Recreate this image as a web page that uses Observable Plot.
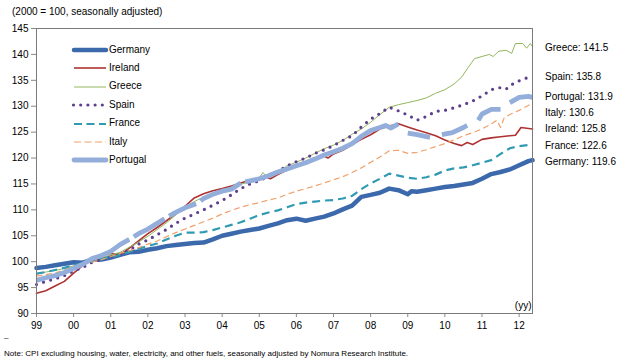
<!DOCTYPE html>
<html>
<head>
<meta charset="utf-8">
<script src="https://cdn.jsdelivr.net/npm/d3@7"></script>
<script src="https://cdn.jsdelivr.net/npm/@observablehq/plot@0.6"></script>
<style>
  html, body { margin: 0; padding: 0; background: #fff; }
  #wrap { position: relative; width: 620px; height: 360px; font-family: "Liberation Sans", Arial, sans-serif; color: #000; overflow: hidden; }
  #wrap svg.chart { position: absolute; left: 0; top: 0; }
  .abs { position: absolute; white-space: nowrap; }
</style>
</head>
<body>
<div id="wrap"></div>
<script>
// ---- data (decimal years, index 2000 = 100) ----
const names = ["Germany", "Ireland", "Greece", "Spain", "France", "Italy", "Portugal"];
const finalValues = [119.6, 125.8, 141.5, 135.8, 122.6, 130.6, 131.9];
const yearTicks = [1999, 2000, 2001, 2002, 2003, 2004, 2005, 2006, 2007, 2008, 2009, 2010, 2011, 2012];
const yTicks = [90, 95, 100, 105, 110, 115, 120, 125, 130, 135, 140, 145];

const germany = [[1999.0,98.8],[1999.25,99.0],[1999.5,99.3],[1999.75,99.6],[2000.0,99.9],[2000.25,99.8],[2000.5,100.4],[2000.75,100.4],[2001.0,100.8],[2001.25,101.3],[2001.5,101.8],[2001.75,101.9],[2002.0,102.3],[2002.25,102.6],[2002.5,103.0],[2002.75,103.2],[2003.0,103.4],[2003.25,103.6],[2003.5,103.7],[2003.75,104.3],[2004.0,105.0],[2004.25,105.4],[2004.5,105.8],[2004.75,106.1],[2005.0,106.4],[2005.25,106.9],[2005.5,107.4],[2005.75,108.0],[2006.0,108.3],[2006.25,107.9],[2006.5,108.3],[2006.75,108.7],[2007.0,109.3],[2007.25,110.1],[2007.5,110.8],[2007.75,112.5],[2008.0,112.9],[2008.25,113.3],[2008.5,114.1],[2008.75,113.8],[2009.0,113.0],[2009.1,113.6],[2009.25,113.5],[2009.5,113.8],[2009.75,114.1],[2010.0,114.4],[2010.25,114.6],[2010.5,114.9],[2010.75,115.2],[2011.0,116.0],[2011.25,116.9],[2011.5,117.3],[2011.75,117.8],[2012.0,118.6],[2012.25,119.4],[2012.36,119.6]];

const ireland = [[1999.0,93.9],[1999.25,94.4],[1999.5,95.3],[1999.75,96.2],[2000.0,97.8],[2000.25,99.3],[2000.5,100.5],[2000.75,101.2],[2001.0,101.6],[2001.25,101.3],[2001.5,102.6],[2001.75,104.0],[2002.0,105.4],[2002.25,106.6],[2002.5,107.9],[2002.75,109.2],[2003.0,110.7],[2003.25,112.3],[2003.5,113.1],[2003.75,113.7],[2004.0,114.1],[2004.25,114.6],[2004.5,115.2],[2004.75,115.7],[2005.0,116.1],[2005.2,116.3],[2005.3,116.0],[2005.5,116.8],[2005.75,117.7],[2006.0,118.4],[2006.25,119.0],[2006.5,119.8],[2006.75,120.4],[2006.85,120.0],[2007.0,120.8],[2007.25,121.5],[2007.5,122.6],[2007.75,123.6],[2008.0,124.5],[2008.25,125.6],[2008.5,126.2],[2008.75,126.6],[2009.0,126.0],[2009.25,125.4],[2009.5,124.9],[2009.75,124.3],[2010.0,123.5],[2010.25,122.8],[2010.45,122.4],[2010.6,123.0],[2010.75,122.6],[2011.0,123.6],[2011.25,123.9],[2011.5,124.1],[2011.75,124.3],[2011.9,124.4],[2012.05,125.9],[2012.36,125.6]];

const greece = [[1999.0,97.6],[1999.25,98.0],[1999.5,98.3],[1999.75,98.7],[2000.0,99.2],[2000.25,99.6],[2000.5,100.1],[2000.75,100.7],[2001.0,101.3],[2001.25,101.8],[2001.5,102.8],[2001.75,103.8],[2002.0,104.9],[2002.25,106.2],[2002.5,107.5],[2002.75,109.0],[2003.0,110.6],[2003.25,111.6],[2003.5,112.5],[2003.75,113.2],[2004.0,113.8],[2004.25,114.4],[2004.5,114.9],[2004.75,115.5],[2005.0,116.2],[2005.1,117.2],[2005.2,116.3],[2005.5,117.3],[2005.75,118.5],[2006.0,119.2],[2006.25,120.0],[2006.5,120.9],[2006.75,121.8],[2007.0,122.5],[2007.25,123.4],[2007.5,124.6],[2007.75,125.6],[2008.0,126.9],[2008.25,128.4],[2008.5,129.8],[2008.75,130.3],[2009.0,130.7],[2009.25,131.1],[2009.5,131.6],[2009.75,132.5],[2010.0,133.2],[2010.25,134.3],[2010.45,135.6],[2010.6,137.2],[2010.8,139.2],[2011.0,139.6],[2011.2,140.0],[2011.3,139.6],[2011.45,140.6],[2011.65,140.8],[2011.8,140.2],[2011.9,142.1],[2012.1,142.1],[2012.2,141.2],[2012.3,142.1],[2012.36,141.5]];

const spain = [[1999.0,95.6],[1999.25,96.2],[1999.5,96.7],[1999.75,97.3],[2000.0,98.2],[2000.25,98.9],[2000.5,99.9],[2000.75,100.4],[2001.0,100.9],[2001.25,101.3],[2001.5,102.2],[2001.75,103.4],[2002.0,104.2],[2002.25,105.2],[2002.5,106.2],[2002.75,107.4],[2003.0,108.4],[2003.25,109.2],[2003.5,110.0],[2003.75,110.9],[2004.0,111.8],[2004.25,112.9],[2004.5,114.1],[2004.75,115.0],[2005.0,115.6],[2005.25,116.5],[2005.5,117.4],[2005.75,118.5],[2006.0,119.3],[2006.25,120.0],[2006.5,120.9],[2006.75,121.6],[2007.0,122.4],[2007.25,123.4],[2007.5,124.3],[2007.75,126.0],[2008.0,127.5],[2008.25,128.6],[2008.5,129.8],[2008.75,129.1],[2009.0,128.3],[2009.25,127.3],[2009.4,127.7],[2009.6,128.4],[2009.75,129.0],[2010.0,129.2],[2010.25,129.7],[2010.5,130.3],[2010.75,131.0],[2011.0,132.0],[2011.25,133.2],[2011.5,133.6],[2011.65,133.3],[2011.75,134.0],[2012.0,134.9],[2012.36,135.9]];

const france = [[1999.0,97.7],[1999.25,98.0],[1999.5,98.4],[1999.75,98.8],[2000.0,99.3],[2000.25,99.7],[2000.5,100.1],[2000.75,100.5],[2001.0,100.9],[2001.25,101.3],[2001.5,101.9],[2001.75,102.5],[2002.0,103.0],[2002.25,103.5],[2002.5,104.3],[2002.75,105.0],[2003.0,105.6],[2003.25,105.6],[2003.5,105.7],[2003.75,106.1],[2004.0,106.6],[2004.25,107.1],[2004.5,107.6],[2004.75,108.3],[2005.0,109.0],[2005.25,109.5],[2005.5,109.9],[2005.75,110.5],[2006.0,111.1],[2006.25,111.4],[2006.5,111.6],[2006.75,111.8],[2007.0,111.9],[2007.25,112.2],[2007.5,112.7],[2007.75,114.0],[2008.0,115.1],[2008.25,116.0],[2008.5,117.0],[2008.75,116.6],[2009.0,116.2],[2009.25,116.0],[2009.5,116.3],[2009.75,116.8],[2010.0,117.6],[2010.25,118.0],[2010.5,118.2],[2010.75,118.6],[2011.0,119.1],[2011.25,119.6],[2011.5,120.8],[2011.75,121.9],[2012.0,122.3],[2012.36,122.6]];

const italy = [[1999.0,97.2],[1999.25,97.5],[1999.5,97.8],[1999.75,98.4],[2000.0,99.1],[2000.25,99.6],[2000.5,99.9],[2000.75,100.4],[2001.0,101.0],[2001.25,101.6],[2001.5,102.1],[2001.75,102.7],[2002.0,103.4],[2002.25,104.0],[2002.5,104.8],[2002.75,105.6],[2003.0,106.3],[2003.25,107.0],[2003.5,107.7],[2003.75,108.4],[2004.0,109.2],[2004.25,109.9],[2004.5,110.5],[2004.75,111.0],[2005.0,111.4],[2005.25,111.9],[2005.5,112.3],[2005.75,113.0],[2006.0,113.6],[2006.25,114.1],[2006.5,114.6],[2006.75,115.2],[2007.0,115.8],[2007.25,116.4],[2007.5,117.2],[2007.75,118.1],[2008.0,119.2],[2008.25,120.2],[2008.5,121.4],[2008.75,121.5],[2009.0,120.9],[2009.25,121.1],[2009.5,121.6],[2009.75,122.2],[2010.0,122.8],[2010.25,123.5],[2010.5,124.3],[2010.75,124.9],[2011.0,125.6],[2011.25,126.6],[2011.4,127.3],[2011.5,125.9],[2011.6,127.8],[2011.75,128.4],[2012.0,129.2],[2012.36,130.6]];

// Portugal has missing months (null) which break the line, as in the reference
const portugal = [[1999.0,96.4],[1999.25,96.9],[1999.5,97.3],[1999.75,97.9],[2000.0,98.7],[2000.25,99.5],[2000.5,100.6],[2000.75,101.2],[2001.0,102.0],[2001.25,103.3],[2001.5,104.3],[2001.56,null],[2001.62,104.8],[2001.75,105.4],[2002.0,106.3],[2002.25,107.4],[2002.45,108.3],[2002.51,null],[2002.57,108.8],[2002.75,109.5],[2003.0,110.4],[2003.3,111.2],[2003.36,null],[2003.42,111.7],[2003.5,112.2],[2003.75,113.0],[2004.0,113.6],[2004.25,114.0],[2004.5,115.2],[2004.56,null],[2004.62,115.4],[2004.75,115.6],[2005.0,116.0],[2005.25,116.6],[2005.5,117.3],[2005.75,117.9],[2006.0,118.5],[2006.25,119.1],[2006.5,119.8],[2006.75,120.6],[2007.0,121.2],[2007.25,121.9],[2007.5,122.8],[2007.75,124.2],[2008.0,125.3],[2008.25,125.9],[2008.4,126.3],[2008.55,125.8],[2008.75,126.6],[2008.85,null],[2009.0,124.8],[2009.25,124.5],[2009.6,124.0],[2009.75,null],[2009.92,124.5],[2010.2,124.9],[2010.5,125.9],[2010.6,126.3],[2010.75,null],[2010.9,127.3],[2011.0,128.5],[2011.25,129.4],[2011.5,129.4],[2011.6,null],[2011.75,130.7],[2012.0,131.7],[2012.25,131.9],[2012.36,131.7]];

const seriesData = [germany, ireland, greece, spain, france, italy, portugal];

// ---- styles ----
const styles = [
  {stroke: "#3C69AC", strokeWidth: 4.5, dash: null, cap: "round"},
  {stroke: "#AE3232", strokeWidth: 1.6, dash: null, cap: "round"},
  {stroke: "#93B65E", strokeWidth: 1.0, dash: null, cap: "round"},
  {stroke: "#5E3F8C", strokeWidth: 3.2, dash: "0 7.4", cap: "round"},
  {stroke: "#2F9AB2", strokeWidth: 2.2, dash: "8 5", cap: "butt"},
  {stroke: "#F0A06A", strokeWidth: 1.2, dash: "6 3.5", cap: "butt"},
  {stroke: "#93AEDA", strokeWidth: 4.8, dash: null, cap: "butt"}
];

const rows = names.map((n, i) => seriesData[i].map(([t, v]) => ({country: n, t, v})));

const fontFamily = '"Liberation Sans", Arial, sans-serif';

const chart = Plot.plot({
  width: 620,
  height: 360,
  marginLeft: 36,
  marginRight: 88,
  marginTop: 28,
  marginBottom: 47,
  style: {fontFamily, fontSize: "10px", color: "#000", background: "transparent", overflow: "visible"},
  x: {domain: [1999, 2012.36]},
  y: {domain: [90, 145]},
  marks: [
    Plot.axisX({ticks: yearTicks, tickFormat: d => String(d % 100).padStart(2, "0"), tickSize: 4, tickPadding: 4, stroke: "#8a8a8a", fill: "#000", label: null}),
    Plot.axisY({ticks: yTicks, tickSize: 5, tickPadding: 3, stroke: "#8a8a8a", fill: "#000", label: null}),
    ...rows.map((data, i) => Plot.line(data, {
      x: "t", y: "v",
      stroke: styles[i].stroke,
      strokeWidth: styles[i].strokeWidth,
      strokeDasharray: styles[i].dash || undefined,
      strokeLinecap: styles[i].cap,
      strokeLinejoin: "round"
    })),
    Plot.frame({stroke: "#7a7a7a", strokeWidth: 1}),
    Plot.text(["(yy)"], {frameAnchor: "bottom-right", dx: -1, dy: -5, fontSize: 10, fill: "#000"})
  ]
});
chart.classList.add("chart");

const wrap = document.getElementById("wrap");
wrap.appendChild(chart);

function addDiv(text, left, top, size, extra) {
  const d = document.createElement("div");
  d.className = "abs";
  d.textContent = text;
  d.style.left = left + "px";
  d.style.top = top + "px";
  d.style.fontSize = size + "px";
  d.style.lineHeight = "1";
  if (extra) Object.assign(d.style, extra);
  wrap.appendChild(d);
  return d;
}

// header unit note
addDiv("(2000 = 100, seasonally adjusted)", 12, 7, 10);

// legend (inside plot, top-left)
names.forEach((n, i) => {
  const cy = 50 + i * 18.4;
  const ns = "http://www.w3.org/2000/svg";
  const sv = document.createElementNS(ns, "svg");
  sv.setAttribute("width", 40);
  sv.setAttribute("height", 12);
  sv.style.position = "absolute";
  sv.style.left = "70px";
  sv.style.top = (cy - 6) + "px";
  const ln = document.createElementNS(ns, "line");
  ln.setAttribute("x1", 4); ln.setAttribute("x2", 36);
  ln.setAttribute("y1", 6); ln.setAttribute("y2", 6);
  ln.setAttribute("stroke", styles[i].stroke);
  ln.setAttribute("stroke-width", styles[i].strokeWidth);
  ln.setAttribute("stroke-linecap", i === 3 ? "round" : (i === 0 || i === 6 ? "round" : "butt"));
  if (styles[i].dash) ln.setAttribute("stroke-dasharray", i === 3 ? "0 7.2" : (i === 4 ? "8 4.5" : "7 3.5"));
  if (i === 3) { ln.setAttribute("x1", 3.5); ln.setAttribute("x2", 36); }
  sv.appendChild(ln);
  wrap.appendChild(sv);
  addDiv(n, 109, cy - 5.5, 10);
});

// end-of-series labels at the right, placed at their value and pushed apart
const yScale = chart.scale("y");
const endLabels = names.map((n, i) => ({text: n + ": " + finalValues[i].toFixed(1), v: finalValues[i]}))
  .sort((a, b) => b.v - a.v);
let prev = -Infinity;
endLabels.forEach(l => {
  let y = yScale.apply(l.v) + 2;
  if (y < prev + 16) y = prev + 16;
  prev = y;
  addDiv(l.text, 545, y - 5.5, 10);
});

// footnote
addDiv("\u2013", 4, 334, 8);
addDiv("Note: CPI excluding housing, water, electricity, and other fuels, seasonally adjusted by Nomura Research Institute.", 4, 350, 8);
</script>
</body>
</html>
